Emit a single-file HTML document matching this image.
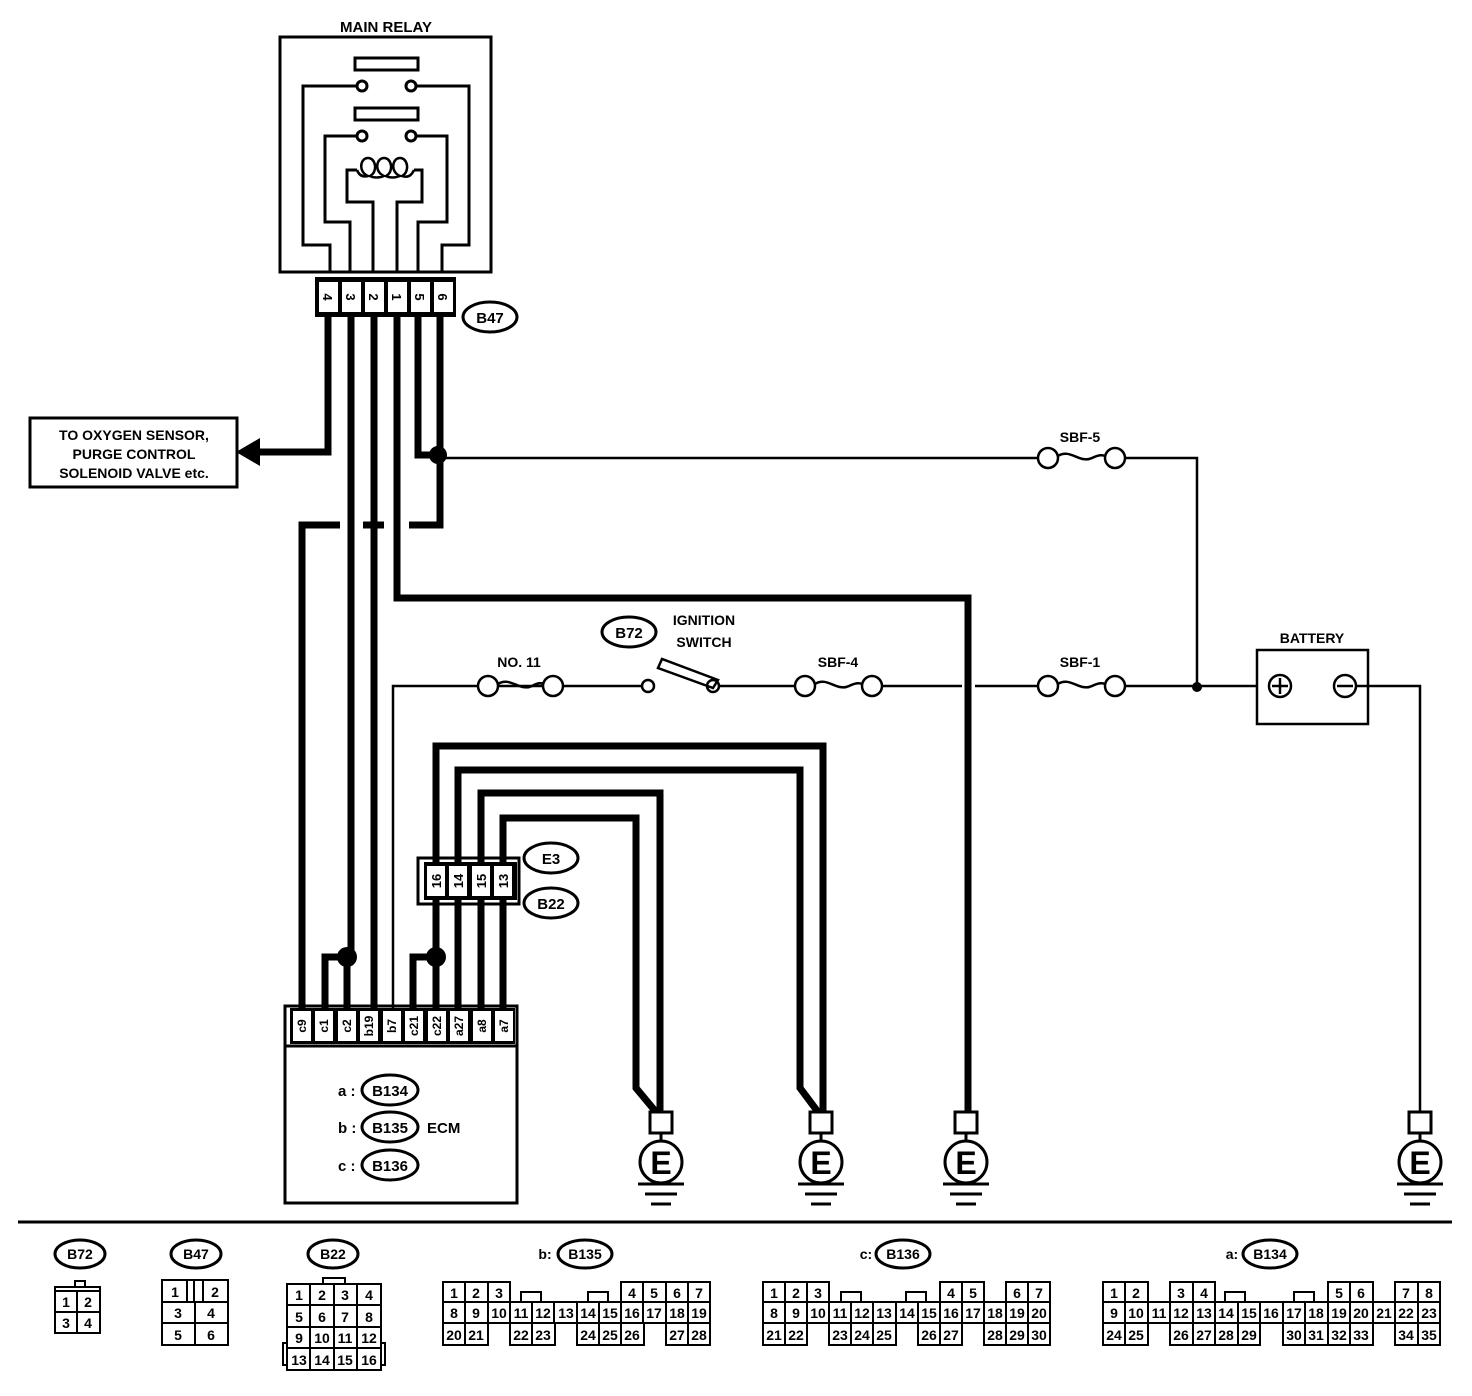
<!DOCTYPE html>
<html><head><meta charset="utf-8"><style>
body{margin:0;background:#fff}
svg{display:block}
text{font-family:"Liberation Sans",sans-serif;font-weight:bold;fill:#000}
</style></head><body>
<svg width="1472" height="1396" viewBox="0 0 1472 1396" xmlns="http://www.w3.org/2000/svg">
<rect width="1472" height="1396" fill="#fff"/>
<!-- MAIN RELAY -->
<text x="386" y="32" font-size="15" text-anchor="middle">MAIN RELAY</text>
<g fill="none" stroke="#000" stroke-width="3">
<rect x="280" y="37" width="211" height="235"/>
<rect x="355" y="58" width="63" height="12"/>
<rect x="355" y="108" width="63" height="12"/>
<circle cx="362" cy="86" r="5"/><circle cx="411" cy="86" r="5"/>
<circle cx="362" cy="136" r="5"/><circle cx="411" cy="136" r="5"/>
<polyline points="357,86 303,86 303,245 330,245 330,272"/>
<polyline points="416,86 469,86 469,245 442,245 442,272"/>
<polyline points="357,136 325,136 325,222 350,222 350,272"/>
<polyline points="416,136 447,136 447,222 418,222 418,272"/>
<polyline points="357,170 347,170 347,202 373,202 373,272"/>
<polyline points="414,170 422,170 422,202 397,202 397,272"/>
<path d="M357,170 Q360,178 368,176 C358,172 360,158 368,158 C376,158 378,172 370,176 Q376,179 384,176 C374,172 376,158 384,158 C392,158 394,172 386,176 Q392,179 400,176 C390,172 392,158 400,158 C408,158 410,172 402,176 Q410,179 414,170" stroke-width="2.5"/>
</g>
<!-- B47 connector -->
<rect x="315" y="277" width="141" height="40" fill="#000"/>
<g fill="#fff">
<rect x="319" y="282" width="19" height="30"/><rect x="342" y="282" width="19" height="30"/>
<rect x="365" y="282" width="19" height="30"/><rect x="388" y="282" width="19" height="30"/>
<rect x="411" y="282" width="19" height="30"/><rect x="434" y="282" width="19" height="30"/>
</g>
<g font-size="13" text-anchor="middle">
<text transform="translate(328,297) rotate(90)" dy="5">4</text>
<text transform="translate(351,297) rotate(90)" dy="5">3</text>
<text transform="translate(374,297) rotate(90)" dy="5">2</text>
<text transform="translate(397,297) rotate(90)" dy="5">1</text>
<text transform="translate(420,297) rotate(90)" dy="5">5</text>
<text transform="translate(443,297) rotate(90)" dy="5">6</text>
</g>
<ellipse cx="490" cy="317" rx="27" ry="15" fill="#fff" stroke="#000" stroke-width="3"/>
<text x="490" y="323" font-size="15" text-anchor="middle">B47</text>

<!-- thick wires -->
<g fill="none" stroke="#000" stroke-width="7">
<polyline points="328,317 328,452 258,452"/>
<polyline points="351,317 351,957 347,957 347,1010"/>
<polyline points="374,317 374,1010"/>
<polyline points="397,317 397,598 968,598 968,1112"/>
<polyline points="418,317 418,455 438,455"/>
<polyline points="440,317 440,525 409,525"/>
<polyline points="384,525 363,525"/>
<polyline points="340,525 302,525 302,1010"/>
<polyline points="347,957 325,957 325,1010"/>
<polyline points="436,957 413,957 413,1010"/>
<line x1="436" y1="900" x2="436" y2="1010"/>
<line x1="458" y1="900" x2="458" y2="1010"/>
<line x1="481" y1="900" x2="481" y2="1010"/>
<line x1="503" y1="900" x2="503" y2="1010"/>
<polyline points="436,862 436,746 823,746 823,1112"/>
<polyline points="458,862 458,770 800,770 800,1088 818,1112"/>
<polyline points="481,862 481,793 660,793 660,1112"/>
<polyline points="503,862 503,818 636,818 636,1088 656,1112"/>
</g>
<polygon points="236,452 260,438 260,466" fill="#000"/>
<circle cx="438" cy="455" r="9" fill="#000"/>
<circle cx="347" cy="957" r="10" fill="#000"/>
<circle cx="436" cy="957" r="10" fill="#000"/>
<rect x="30" y="418" width="207" height="69" fill="#fff" stroke="#000" stroke-width="3"/>
<g font-size="14" text-anchor="middle">
<text x="134" y="440">TO OXYGEN SENSOR,</text>
<text x="134" y="459">PURGE CONTROL</text>
<text x="134" y="478">SOLENOID VALVE etc.</text>
</g>

<!-- thin wires -->
<g fill="none" stroke="#000" stroke-width="2.5">
<polyline points="438,458 1038,458"/>
<polyline points="1125,458 1197,458 1197,687"/>
<polyline points="393,1010 393,686 478,686"/>
<line x1="498" y1="686" x2="543" y2="686"/>
<line x1="563" y1="686" x2="642" y2="686"/>
<line x1="719" y1="686" x2="795" y2="686"/>
<line x1="882" y1="686" x2="962" y2="686"/>
<line x1="975" y1="686" x2="1038" y2="686"/>
<line x1="1125" y1="686" x2="1257" y2="686"/>
<polyline points="1357,686 1420,686 1420,1112"/>
<circle cx="488" cy="686" r="10"/><circle cx="553" cy="686" r="10"/>
<circle cx="805" cy="686" r="10"/><circle cx="872" cy="686" r="10"/>
<circle cx="1048" cy="686" r="10"/><circle cx="1115" cy="686" r="10"/>
<circle cx="1048" cy="458" r="10"/><circle cx="1115" cy="458" r="10"/>
<path d="M498,684 C510,676 520,692 532,686 C536,684 540,682 543,684"/>
<path d="M815,684 C827,676 837,692 849,686 C853,684 858,682 862,684"/>
<path d="M1058,684 C1070,676 1080,692 1092,686 C1096,684 1101,682 1105,684"/>
<path d="M1058,456 C1070,448 1080,464 1092,458 C1096,456 1101,454 1105,456"/>
<circle cx="648" cy="686" r="6"/><circle cx="713" cy="686" r="6"/>
<polygon points="658,668 662,659 718,680 713,688"/>
<rect x="1257" y="650" width="111" height="74"/>
<circle cx="1280" cy="686" r="11"/><circle cx="1345" cy="686" r="11"/>
<line x1="1272" y1="686" x2="1288" y2="686"/><line x1="1280" y1="678" x2="1280" y2="694"/>
<line x1="1337" y1="686" x2="1353" y2="686"/>
</g>
<circle cx="1197" cy="687" r="5" fill="#000"/>
<g font-size="14" text-anchor="middle">
<text x="1080" y="442">SBF-5</text>
<text x="519" y="667">NO. 11</text>
<text x="838" y="667">SBF-4</text>
<text x="1080" y="667">SBF-1</text>
<text x="1312" y="643">BATTERY</text>
<text x="704" y="625">IGNITION</text>
<text x="704" y="647">SWITCH</text>
</g>
<ellipse cx="629" cy="632" rx="27" ry="15" fill="#fff" stroke="#000" stroke-width="3"/>
<text x="629" y="638" font-size="15" text-anchor="middle">B72</text>

<!-- E3/B22 connector -->
<rect x="418" y="858" width="101" height="46" fill="none" stroke="#000" stroke-width="3"/>
<rect x="424" y="862" width="93" height="38" fill="#000"/>
<g fill="#fff"><rect x="427" y="866" width="18" height="30"/><rect x="449" y="866" width="18" height="30"/><rect x="472" y="866" width="18" height="30"/><rect x="494" y="866" width="18" height="30"/></g>
<g font-size="13" text-anchor="middle">
<text transform="translate(436,881) rotate(-90)" dy="5">16</text>
<text transform="translate(458,881) rotate(-90)" dy="5">14</text>
<text transform="translate(481,881) rotate(-90)" dy="5">15</text>
<text transform="translate(503,881) rotate(-90)" dy="5">13</text>
</g>
<ellipse cx="551" cy="858" rx="27" ry="15" fill="#fff" stroke="#000" stroke-width="3"/>
<text x="551" y="864" font-size="15" text-anchor="middle">E3</text>
<ellipse cx="551" cy="903" rx="27" ry="15" fill="#fff" stroke="#000" stroke-width="3"/>
<text x="551" y="909" font-size="15" text-anchor="middle">B22</text>

<!-- ECM -->
<rect x="285" y="1006" width="232" height="197" fill="none" stroke="#000" stroke-width="3"/>
<line x1="285" y1="1046" x2="517" y2="1046" stroke="#000" stroke-width="3"/>
<rect x="290" y="1008" width="225" height="36" fill="#000"/>
<g fill="#fff">
<rect x="293" y="1011" width="18" height="30"/><rect x="315" y="1011" width="18" height="30"/><rect x="338" y="1011" width="18" height="30"/><rect x="360" y="1011" width="18" height="30"/><rect x="383" y="1011" width="18" height="30"/><rect x="405" y="1011" width="18" height="30"/><rect x="428" y="1011" width="18" height="30"/><rect x="450" y="1011" width="18" height="30"/><rect x="473" y="1011" width="18" height="30"/><rect x="495" y="1011" width="18" height="30"/>
</g>
<g font-size="12" text-anchor="middle">
<text transform="translate(302,1026) rotate(-90)" dy="4">c9</text>
<text transform="translate(324,1026) rotate(-90)" dy="4">c1</text>
<text transform="translate(347,1026) rotate(-90)" dy="4">c2</text>
<text transform="translate(369,1026) rotate(-90)" dy="4">b19</text>
<text transform="translate(392,1026) rotate(-90)" dy="4">b7</text>
<text transform="translate(414,1026) rotate(-90)" dy="4">c21</text>
<text transform="translate(437,1026) rotate(-90)" dy="4">c22</text>
<text transform="translate(459,1026) rotate(-90)" dy="4">a27</text>
<text transform="translate(482,1026) rotate(-90)" dy="4">a8</text>
<text transform="translate(504,1026) rotate(-90)" dy="4">a7</text>
</g>
<g font-size="15">
<text x="338" y="1096">a :</text><text x="338" y="1133">b :</text><text x="338" y="1171">c :</text>
<text x="427" y="1133">ECM</text>
</g>
<g fill="#fff" stroke="#000" stroke-width="3">
<ellipse cx="390" cy="1090" rx="28" ry="15"/><ellipse cx="390" cy="1127" rx="28" ry="15"/><ellipse cx="390" cy="1165" rx="28" ry="15"/>
</g>
<g font-size="15" text-anchor="middle">
<text x="390" y="1096">B134</text><text x="390" y="1133">B135</text><text x="390" y="1171">B136</text>
</g>

<!-- grounds -->
<g id="g1" fill="none" stroke="#000" stroke-width="3">
<rect x="650" y="1112" width="22" height="21" fill="#fff"/>
<line x1="661" y1="1133" x2="661" y2="1141"/>
<circle cx="661" cy="1162" r="21" fill="#fff"/>
<line x1="638" y1="1184" x2="684" y2="1184"/>
<line x1="645" y1="1194" x2="677" y2="1194"/>
<line x1="651" y1="1204" x2="671" y2="1204"/>
</g>
<use href="#g1" x="160"/><use href="#g1" x="305"/><use href="#g1" x="759"/>
<g font-size="32" text-anchor="middle">
<text x="661" y="1174">E</text><text x="821" y="1174">E</text><text x="966" y="1174">E</text><text x="1420" y="1174">E</text>
</g>

<line x1="18" y1="1222" x2="1452" y2="1222" stroke="#000" stroke-width="3"/>

<!-- bottom ovals -->
<g fill="#fff" stroke="#000" stroke-width="3">
<ellipse cx="80" cy="1254" rx="25" ry="14"/><ellipse cx="196" cy="1254" rx="25" ry="14"/><ellipse cx="333" cy="1254" rx="25" ry="14"/>
<ellipse cx="585" cy="1254" rx="27" ry="14"/><ellipse cx="903" cy="1254" rx="27" ry="14"/><ellipse cx="1270" cy="1254" rx="27" ry="14"/>
</g>
<g font-size="14" text-anchor="middle">
<text x="80" y="1259">B72</text><text x="196" y="1259">B47</text><text x="333" y="1259">B22</text>
<text x="585" y="1259">B135</text><text x="903" y="1259">B136</text><text x="1270" y="1259">B134</text>
<text x="545" y="1259">b:</text><text x="866" y="1259">c:</text><text x="1232" y="1259">a:</text>
</g>

<g fill="none" stroke="#000" stroke-width="2">
<!-- B72 -->
<rect x="75" y="1281" width="10" height="6"/>
<rect x="55" y="1287" width="45" height="46"/><line x1="55" y1="1291" x2="100" y2="1291"/>
<line x1="55" y1="1312" x2="100" y2="1312"/><line x1="77" y1="1291" x2="77" y2="1333"/>
<!-- B47 -->
<rect x="162" y="1280" width="66" height="65"/>
<line x1="162" y1="1302" x2="228" y2="1302"/><line x1="162" y1="1323" x2="228" y2="1323"/>
<line x1="195" y1="1302" x2="195" y2="1345"/>
<line x1="187" y1="1280" x2="187" y2="1302"/><line x1="194" y1="1280" x2="194" y2="1302"/><line x1="203" y1="1280" x2="203" y2="1302"/>
<!-- B22 -->
<rect x="323" y="1278" width="22" height="6"/>
<rect x="287" y="1284" width="94" height="86"/>
<line x1="287" y1="1305" x2="381" y2="1305"/><line x1="287" y1="1327" x2="381" y2="1327"/><line x1="287" y1="1348" x2="381" y2="1348"/>
<line x1="310" y1="1284" x2="310" y2="1370"/><line x1="334" y1="1284" x2="334" y2="1370"/><line x1="357" y1="1284" x2="357" y2="1370"/>
<rect x="283" y="1343" width="4" height="22"/><rect x="381" y="1343" width="4" height="22"/>
</g>
<g font-size="14" text-anchor="middle">
<text x="66" y="1307">1</text><text x="88" y="1307">2</text><text x="66" y="1328">3</text><text x="88" y="1328">4</text>
<text x="175" y="1297">1</text><text x="215" y="1297">2</text><text x="178" y="1318">3</text><text x="211" y="1318">4</text><text x="178" y="1340">5</text><text x="211" y="1340">6</text>
<text x="299" y="1300">1</text><text x="322" y="1300">2</text><text x="345" y="1300">3</text><text x="369" y="1300">4</text>
<text x="299" y="1322">5</text><text x="322" y="1322">6</text><text x="345" y="1322">7</text><text x="369" y="1322">8</text>
<text x="299" y="1343">9</text><text x="322" y="1343">10</text><text x="345" y="1343">11</text><text x="369" y="1343">12</text>
<text x="299" y="1365">13</text><text x="322" y="1365">14</text><text x="345" y="1365">15</text><text x="369" y="1365">16</text>
</g>

<!-- B135 -->
<g fill="none" stroke="#000" stroke-width="2">
<rect x="443" y="1282" width="67" height="20"/><line x1="465" y1="1282" x2="465" y2="1302"/><line x1="488" y1="1282" x2="488" y2="1302"/>
<rect x="621" y="1282" width="89" height="20"/><line x1="643" y1="1282" x2="643" y2="1302"/><line x1="666" y1="1282" x2="666" y2="1302"/><line x1="688" y1="1282" x2="688" y2="1302"/>
<rect x="521" y="1292" width="20" height="10"/><rect x="588" y="1292" width="20" height="10"/>
<rect x="443" y="1302" width="267" height="21"/>
<path d="M465,1302V1323M488,1302V1323M510,1302V1323M532,1302V1323M554,1302V1323M577,1302V1323M599,1302V1323M621,1302V1323M643,1302V1323M666,1302V1323M688,1302V1323"/>
<rect x="443" y="1323" width="45" height="22"/><line x1="465" y1="1323" x2="465" y2="1345"/>
<rect x="510" y="1323" width="45" height="22"/><line x1="532" y1="1323" x2="532" y2="1345"/>
<rect x="577" y="1323" width="67" height="22"/><line x1="599" y1="1323" x2="599" y2="1345"/><line x1="621" y1="1323" x2="621" y2="1345"/>
<rect x="666" y="1323" width="44" height="22"/><line x1="688" y1="1323" x2="688" y2="1345"/>
</g>
<g font-size="14" text-anchor="middle">
<text x="454" y="1298">1</text><text x="476" y="1298">2</text><text x="499" y="1298">3</text><text x="632" y="1298">4</text><text x="654" y="1298">5</text><text x="677" y="1298">6</text><text x="699" y="1298">7</text>
<text x="454" y="1318">8</text><text x="476" y="1318">9</text><text x="499" y="1318">10</text><text x="521" y="1318">11</text><text x="543" y="1318">12</text><text x="566" y="1318">13</text><text x="588" y="1318">14</text><text x="610" y="1318">15</text><text x="632" y="1318">16</text><text x="654" y="1318">17</text><text x="677" y="1318">18</text><text x="699" y="1318">19</text>
<text x="454" y="1340">20</text><text x="476" y="1340">21</text><text x="521" y="1340">22</text><text x="543" y="1340">23</text><text x="588" y="1340">24</text><text x="610" y="1340">25</text><text x="632" y="1340">26</text><text x="677" y="1340">27</text><text x="699" y="1340">28</text>
</g>

<!-- B136 -->
<g fill="none" stroke="#000" stroke-width="2">
<rect x="763" y="1282" width="66" height="20"/><line x1="785" y1="1282" x2="785" y2="1302"/><line x1="807" y1="1282" x2="807" y2="1302"/>
<rect x="940" y="1282" width="44" height="20"/><line x1="962" y1="1282" x2="962" y2="1302"/>
<rect x="1006" y="1282" width="44" height="20"/><line x1="1028" y1="1282" x2="1028" y2="1302"/>
<rect x="841" y="1292" width="20" height="10"/><rect x="906" y="1292" width="20" height="10"/>
<rect x="763" y="1302" width="287" height="21"/>
<path d="M785,1302V1323M807,1302V1323M829,1302V1323M851,1302V1323M873,1302V1323M896,1302V1323M918,1302V1323M940,1302V1323M962,1302V1323M984,1302V1323M1006,1302V1323M1028,1302V1323"/>
<rect x="763" y="1323" width="44" height="22"/><line x1="785" y1="1323" x2="785" y2="1345"/>
<rect x="829" y="1323" width="67" height="22"/><line x1="851" y1="1323" x2="851" y2="1345"/><line x1="873" y1="1323" x2="873" y2="1345"/>
<rect x="918" y="1323" width="44" height="22"/><line x1="940" y1="1323" x2="940" y2="1345"/>
<rect x="984" y="1323" width="66" height="22"/><line x1="1006" y1="1323" x2="1006" y2="1345"/><line x1="1028" y1="1323" x2="1028" y2="1345"/>
</g>
<g font-size="14" text-anchor="middle">
<text x="774" y="1298">1</text><text x="796" y="1298">2</text><text x="818" y="1298">3</text><text x="951" y="1298">4</text><text x="973" y="1298">5</text><text x="1017" y="1298">6</text><text x="1039" y="1298">7</text>
<text x="774" y="1318">8</text><text x="796" y="1318">9</text><text x="818" y="1318">10</text><text x="840" y="1318">11</text><text x="862" y="1318">12</text><text x="884" y="1318">13</text><text x="907" y="1318">14</text><text x="929" y="1318">15</text><text x="951" y="1318">16</text><text x="973" y="1318">17</text><text x="995" y="1318">18</text><text x="1017" y="1318">19</text><text x="1039" y="1318">20</text>
<text x="774" y="1340">21</text><text x="796" y="1340">22</text><text x="840" y="1340">23</text><text x="862" y="1340">24</text><text x="884" y="1340">25</text><text x="929" y="1340">26</text><text x="951" y="1340">27</text><text x="995" y="1340">28</text><text x="1017" y="1340">29</text><text x="1039" y="1340">30</text>
</g>

<!-- B134 -->
<g fill="none" stroke="#000" stroke-width="2">
<rect x="1103" y="1282" width="45" height="20"/><line x1="1125" y1="1282" x2="1125" y2="1302"/>
<rect x="1170" y="1282" width="45" height="20"/><line x1="1193" y1="1282" x2="1193" y2="1302"/>
<rect x="1328" y="1282" width="45" height="20"/><line x1="1350" y1="1282" x2="1350" y2="1302"/>
<rect x="1395" y="1282" width="45" height="20"/><line x1="1418" y1="1282" x2="1418" y2="1302"/>
<rect x="1225" y="1292" width="20" height="10"/><rect x="1294" y="1292" width="20" height="10"/>
<rect x="1103" y="1302" width="337" height="21"/>
<path d="M1125,1302V1323M1148,1302V1323M1170,1302V1323M1193,1302V1323M1215,1302V1323M1238,1302V1323M1260,1302V1323M1283,1302V1323M1305,1302V1323M1328,1302V1323M1350,1302V1323M1373,1302V1323M1395,1302V1323M1418,1302V1323"/>
<rect x="1103" y="1323" width="45" height="22"/><line x1="1125" y1="1323" x2="1125" y2="1345"/>
<rect x="1170" y="1323" width="90" height="22"/><line x1="1193" y1="1323" x2="1193" y2="1345"/><line x1="1215" y1="1323" x2="1215" y2="1345"/><line x1="1238" y1="1323" x2="1238" y2="1345"/>
<rect x="1283" y="1323" width="90" height="22"/><line x1="1305" y1="1323" x2="1305" y2="1345"/><line x1="1328" y1="1323" x2="1328" y2="1345"/><line x1="1350" y1="1323" x2="1350" y2="1345"/>
<rect x="1395" y="1323" width="45" height="22"/><line x1="1418" y1="1323" x2="1418" y2="1345"/>
</g>
<g font-size="14" text-anchor="middle">
<text x="1114" y="1298">1</text><text x="1136" y="1298">2</text><text x="1181" y="1298">3</text><text x="1204" y="1298">4</text><text x="1339" y="1298">5</text><text x="1361" y="1298">6</text><text x="1406" y="1298">7</text><text x="1429" y="1298">8</text>
<text x="1114" y="1318">9</text><text x="1136" y="1318">10</text><text x="1159" y="1318">11</text><text x="1181" y="1318">12</text><text x="1204" y="1318">13</text><text x="1226" y="1318">14</text><text x="1249" y="1318">15</text><text x="1271" y="1318">16</text><text x="1294" y="1318">17</text><text x="1316" y="1318">18</text><text x="1339" y="1318">19</text><text x="1361" y="1318">20</text><text x="1384" y="1318">21</text><text x="1406" y="1318">22</text><text x="1429" y="1318">23</text>
<text x="1114" y="1340">24</text><text x="1136" y="1340">25</text><text x="1181" y="1340">26</text><text x="1204" y="1340">27</text><text x="1226" y="1340">28</text><text x="1249" y="1340">29</text><text x="1294" y="1340">30</text><text x="1316" y="1340">31</text><text x="1339" y="1340">32</text><text x="1361" y="1340">33</text><text x="1406" y="1340">34</text><text x="1429" y="1340">35</text>
</g>
</svg>
</body></html>
